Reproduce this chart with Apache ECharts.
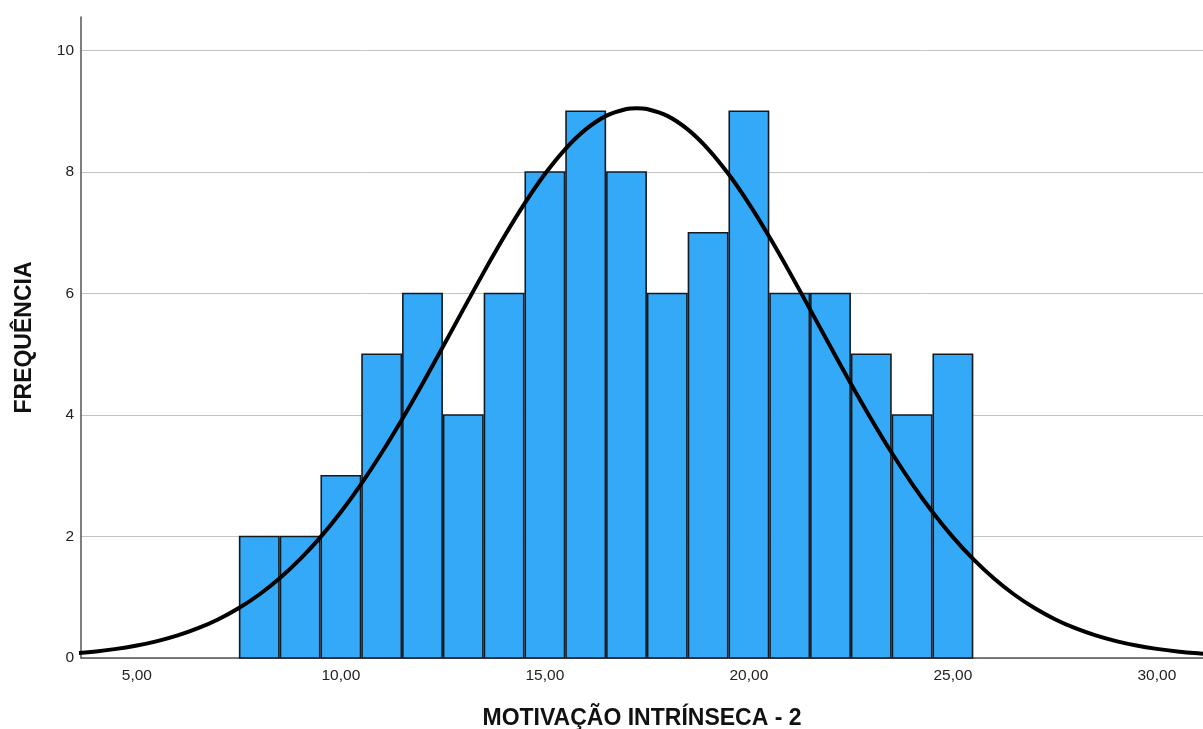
<!DOCTYPE html>
<html>
<head>
<meta charset="utf-8">
<script src="https://cdn.jsdelivr.net/npm/echarts@6/dist/echarts.min.js"></script>
<style>
  html, body { margin: 0; padding: 0; background: #fff; }
  #chart { width: 1203px; height: 729px; }
</style>
</head>
<body>
<div id="chart"></div>
<script>
// Histogram bins (bin centre, width 1) and their frequencies
const binCenters = [8, 9, 10, 11, 12, 13, 14, 15, 16, 17, 18, 19, 20, 21, 22, 23, 24, 25];
const frequencies = [2, 2, 3, 5, 6, 4, 6, 8, 9, 8, 6, 7, 9, 6, 6, 5, 4, 5];

// Fitted normal curve, sampled every half score
const curveX = [3, 3.5, 4, 4.5, 5, 5.5, 6, 6.5, 7, 7.5, 8, 8.5, 9, 9.5, 10, 10.5, 11, 11.5, 12, 12.5,
  13, 13.5, 14, 14.5, 15, 15.5, 16, 16.5, 17, 17.25, 17.5, 18, 18.5, 19, 19.5, 20, 20.5, 21, 21.5, 22, 22.5,
  23, 23.5, 24, 24.5, 25, 25.5, 26, 26.5, 27, 27.5, 28, 28.5, 29, 29.5, 30, 30.5, 31, 31.5, 32];
const curveY = [0.054, 0.077, 0.108, 0.150, 0.205, 0.278, 0.372, 0.491, 0.639, 0.823, 1.045, 1.312, 1.626, 1.989, 2.403, 2.867, 3.378, 3.931, 4.515, 5.122,
  5.738, 6.347, 6.932, 7.478, 7.965, 8.377, 8.70, 8.923, 9.036, 9.05, 9.036, 8.923, 8.70, 8.377, 7.965, 7.478, 6.932, 6.347, 5.738, 5.122, 4.515,
  3.931, 3.378, 2.867, 2.403, 1.989, 1.626, 1.312, 1.045, 0.823, 0.639, 0.491, 0.372, 0.278, 0.205, 0.150, 0.108, 0.077, 0.054, 0.037];

// Axis ticks
const xTicks = [5, 10, 15, 20, 25, 30];
const yTicks = [0, 2, 4, 6, 8, 10];

const xTitle = 'MOTIVAÇÃO INTRÍNSECA - 2';
const yTitle = 'FREQUÊNCIA';

const barData = binCenters.map((c, i) => [c, frequencies[i]]);
const curveData = curveX.map((x, i) => [x, curveY[i]]);

const chart = echarts.init(document.getElementById('chart'), null, { renderer: 'canvas' });

const font = '"Liberation Sans", Arial, sans-serif';

chart.setOption({
  animation: false,
  backgroundColor: '#ffffff',
  grid: { left: 81, right: 0, top: 17, bottom: 71, containLabel: false, outerBoundsMode: 'none' },
  xAxis: {
    type: 'value',
    min: 3.63,
    max: 31.13,
    name: xTitle,
    nameLocation: 'middle',
    nameGap: 49,
    nameTextStyle: { fontFamily: font, fontSize: 23, fontWeight: 'bold', color: '#111' },
    axisLine: { show: true, onZero: false, lineStyle: { color: '#555', width: 1.5 } },
    axisTick: { show: false },
    splitLine: { show: false },
    axisLabel: {
      customValues: xTicks,
      formatter: v => v.toFixed(2).replace('.', ','),
      fontFamily: font, fontSize: 15.5, color: '#222', margin: 10
    }
  },
  yAxis: {
    type: 'value',
    min: 0,
    max: 10.55,
    name: yTitle,
    nameLocation: 'middle',
    nameGap: 45,
    nameRotate: 90,
    nameTextStyle: { fontFamily: font, fontSize: 23, fontWeight: 'bold', color: '#111' },
    axisLine: { show: true, lineStyle: { color: '#555', width: 1.5 } },
    axisTick: { show: false, customValues: yTicks },
    splitLine: { show: true, lineStyle: { color: '#c4c4c4', width: 1 } },
    axisLabel: {
      customValues: yTicks,
      fontFamily: font, fontSize: 15.5, color: '#222', margin: 7
    }
  },
  series: [
    {
      type: 'custom',
      data: barData,
      z: 2,
      renderItem: function (params, api) {
        const c = api.value(0);
        const v = api.value(1);
        const p0 = api.coord([c - 0.5, v]);
        const p1 = api.coord([c + 0.5, 0]);
        return {
          type: 'rect',
          shape: { x: p0[0] + 0.75, y: p0[1], width: p1[0] - p0[0] - 1.5, height: p1[1] - p0[1] },
          style: { fill: '#33A9F8', stroke: '#141a22', lineWidth: 1.6 }
        };
      }
    },
    {
      type: 'line',
      data: curveData,
      smooth: 0.3,
      symbol: 'none',
      clip: true,
      z: 3,
      lineStyle: { color: '#000', width: 4 }
    }
  ]
});
</script>
</body>
</html>
